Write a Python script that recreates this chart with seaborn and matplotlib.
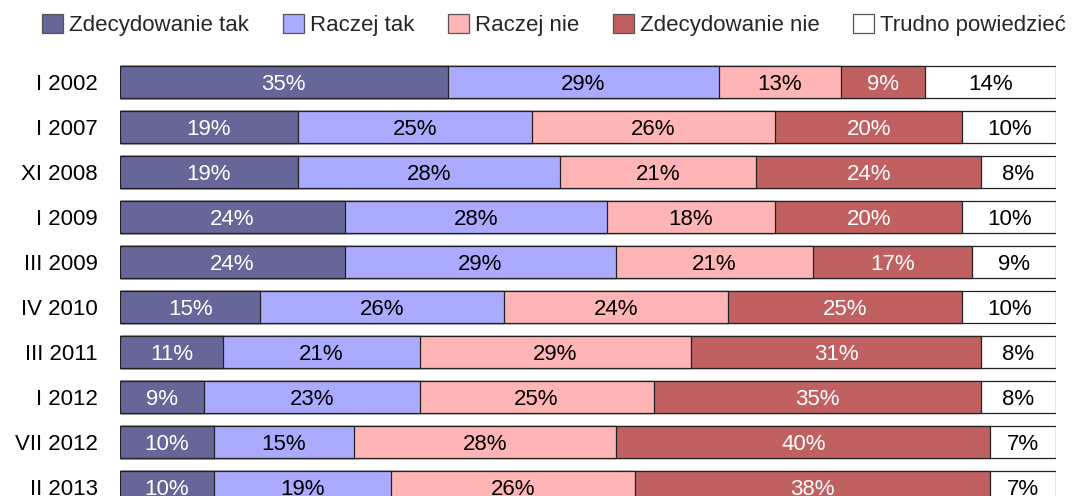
import numpy as np
import pandas as pd
import matplotlib
matplotlib.use("Agg")
import matplotlib.pyplot as plt
import seaborn as sns
from matplotlib.patches import Patch

periods = ["I 2002", "I 2007", "XI 2008", "I 2009", "III 2009", "IV 2010",
           "III 2011", "I 2012", "VII 2012", "II 2013"]
series_names = ["Zdecydowanie tak", "Raczej tak", "Raczej nie", "Zdecydowanie nie", "Trudno powiedzieć"]
zdecydowanie_tak = [35, 19, 19, 24, 24, 15, 11, 9, 10, 10]
raczej_tak = [29, 25, 28, 28, 29, 26, 21, 23, 15, 19]
raczej_nie = [13, 26, 21, 18, 21, 24, 29, 25, 28, 26]
zdecydowanie_nie = [9, 20, 24, 20, 17, 25, 31, 35, 40, 38]
trudno = [14, 10, 8, 10, 9, 10, 8, 8, 7, 7]

colors = ["#666699", "#AAAAFF", "#FFB5B5", "#C06060", "#FFFFFF"]
text_colors = ["white", "black", "black", "white", "black"]

sns.set_theme(style="white")
plt.rcParams["font.family"] = ["Liberation Sans", "DejaVu Sans"]

values = [zdecydowanie_tak, raczej_tak, raczej_nie, zdecydowanie_nie, trudno]
cum = np.cumsum(np.array(values), axis=0)

FS = 16

fig = plt.figure(figsize=(10.92, 4.96), dpi=100)
ax = fig.add_axes([120 / 1092, 0, 936 / 1092, (496 - 60) / 496])

df = pd.DataFrame({"period": periods})
for k in range(len(series_names) - 1, -1, -1):
    df["cum"] = cum[k]
    sns.barplot(data=df, x="cum", y="period", orient="h", color=colors[k],
                saturation=1, width=0.73, edgecolor="#222222", linewidth=0.9,
                ax=ax, order=periods)

for k in range(len(series_names)):
    for i, p in enumerate(periods):
        v = values[k][i]
        center = cum[k][i] - v / 2
        ax.text(center, i, f"{v}%", ha="center", va="center_baseline",
                color=text_colors[k], fontsize=FS)

ax.set_xlim(0, 100)
ax.set_ylim(9 + (496 - 487) / 45, -(82 - 60) / 45)
ax.set_xlabel("")
ax.set_ylabel("")
ax.set_xticks([])
ax.tick_params(axis="y", length=0, pad=16, labelsize=FS, labelcolor="black")
for s in ax.spines.values():
    s.set_visible(False)

handles = [Patch(facecolor=c, edgecolor="#555555", linewidth=0.9) for c in colors]
fig.legend(handles, series_names, loc="center left", ncol=5,
           bbox_to_anchor=(42 / 1092, 1 - 25 / 496), frameon=False,
           fontsize=FS, handlelength=0.95, handleheight=0.95,
           handletextpad=0.28, columnspacing=1.5, borderaxespad=0, borderpad=0)

fig.savefig("out.png", dpi=100)
